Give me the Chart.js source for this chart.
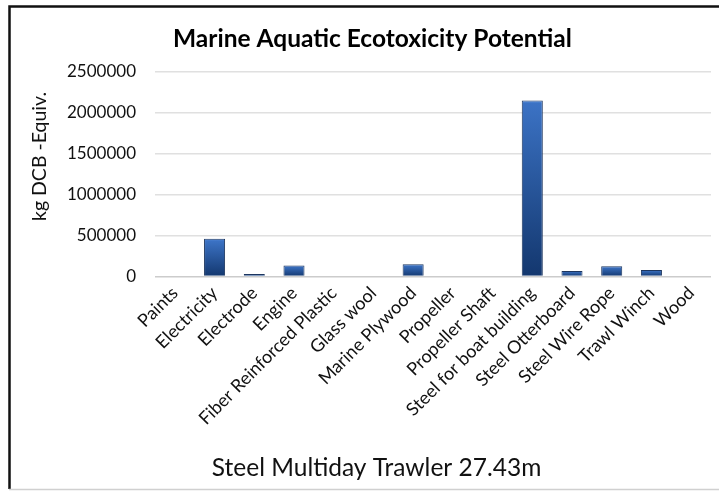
<!DOCTYPE html>
<html>
<head>
<meta charset="utf-8">
<script src="https://cdn.jsdelivr.net/npm/chart.js@4.4.1/dist/chart.umd.min.js"></script>
<style>
  html, body { margin: 0; padding: 0; background: #ffffff; }
  #wrap { width: 719px; height: 491px; position: relative; }
</style>
</head>
<body>
<div id="wrap"><canvas id="c" width="719" height="491"></canvas></div>
<script>
const categories = ["Paints", "Electricity", "Electrode", "Engine", "Fiber Reinforced Plastic", "Glass wool", "Marine Plywood", "Propeller", "Propeller Shaft", "Steel for boat building", "Steel Otterboard", "Steel Wire Rope", "Trawl Winch", "Wood"];
const values = [10000, 460000, 30000, 135000, 0, 10000, 150000, 0, 0, 2145000, 68000, 126000, 80000, 0];
const yTicks = [0, 500000, 1000000, 1500000, 2000000, 2500000];
const chartTitle = "Marine Aquatic Ecotoxicity Potential";
const yTitle = "kg DCB -Equiv.";
const xTitle = "Steel Multiday Trawler 27.43m";

const FONT = "Lato, 'Open Sans', sans-serif";
const NB = '\u00a0';

const framePlugin = {
  id: 'frame',
  beforeDraw(chart) {
    const ctx = chart.ctx;
    ctx.save();
    ctx.fillStyle = '#ffffff';
    ctx.fillRect(0, 0, chart.width, chart.height);
    ctx.strokeStyle = '#111111';
    ctx.lineWidth = 2.5;
    ctx.beginPath();
    ctx.moveTo(9.5, 489);
    ctx.lineTo(9.5, 6.5);
    ctx.lineTo(719, 6.5);
    ctx.stroke();
    ctx.strokeStyle = '#d0d0d0';
    ctx.lineWidth = 1.5;
    ctx.beginPath();
    ctx.moveTo(9, 489.5);
    ctx.lineTo(719, 489.5);
    ctx.stroke();
    ctx.restore();
  }
};

function barHeight(context) {
  const chart = context.chart;
  if (!chart.chartArea) return 0;
  const yScale = chart.scales.y;
  return yScale.getPixelForValue(0) - yScale.getPixelForValue(context.raw || 0);
}

function barFill(context) {
  const chart = context.chart;
  if (!chart.chartArea) return '#2a5ca8';
  const h = barHeight(context);
  if (!(h > 1.5)) return '#b8bcc4';
  const yScale = chart.scales.y;
  const top = yScale.getPixelForValue(context.raw);
  const bottom = yScale.getPixelForValue(0);
  const g = chart.ctx.createLinearGradient(0, top, 0, bottom);
  g.addColorStop(0, '#5a90de');
  g.addColorStop(Math.min(0.06, 3 / h), '#3b72c4');
  g.addColorStop(1, '#13376e');
  return g;
}

function barBorder(context) {
  const h = barHeight(context);
  return h > 1.5 ? '#1c355e' : '#a8acb4';
}

new Chart(document.getElementById('c'), {
  type: 'bar',
  data: {
    labels: categories,
    datasets: [{
      data: values,
      backgroundColor: barFill,
      borderColor: barBorder,
      borderWidth: 1,
      categoryPercentage: 1,
      barPercentage: 0.53
    }]
  },
  plugins: [framePlugin],
  options: {
    responsive: false,
    animation: false,
    devicePixelRatio: 1,
    layout: { padding: { top: 12, left: 10, right: 8, bottom: 8 } },
    plugins: {
      legend: { display: false },
      tooltip: { enabled: false },
      title: {
        display: true,
        text: NB.repeat(4) + chartTitle,
        color: '#000000',
        font: { family: FONT, size: 24.5, weight: 'bold' },
        padding: { top: 12, bottom: 18 }
      }
    },
    scales: {
      x: {
        grid: { display: false, drawTicks: false },
        border: { display: false },
        ticks: {
          color: '#111111',
          font: { family: FONT, size: 18 },
          maxRotation: 45,
          minRotation: 45,
          autoSkip: false,
          padding: 6
        },
        title: {
          display: true,
          text: xTitle + NB.repeat(18),
          color: '#111111',
          font: { family: FONT, size: 24.5 },
          padding: { top: 4, bottom: 0 }
        },
        afterFit(scale) { scale.height = 491 - 8 - 276.5; }
      },
      y: {
        min: 0,
        max: 2500000,
        afterBuildTicks(scale) { scale.ticks = yTicks.map(v => ({ value: v })); },
        grid: {
          color: (c) => c.tick && c.tick.value === 0 ? '#cccccc' : '#e0e0e0',
          lineWidth: 1.5,
          drawTicks: false
        },
        border: { display: false },
        ticks: {
          color: '#111111',
          font: { family: FONT, size: 17 },
          padding: 19,
          callback: (v) => String(v)
        },
        title: {
          display: true,
          text: NB.repeat(7) + yTitle,
          color: '#111111',
          font: { family: FONT, size: 19.5 },
          padding: { top: 18, bottom: 0 }
        },
        afterFit(scale) { scale.width = 155 - 10; }
      }
    }
  }
});
</script>
</body>
</html>
